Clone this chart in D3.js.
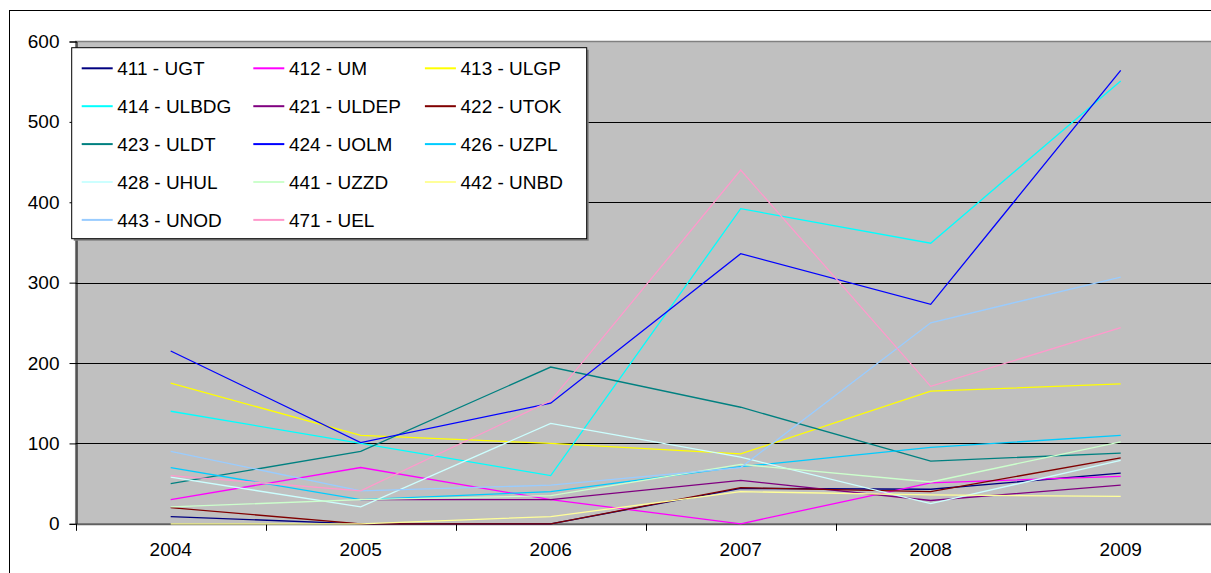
<!DOCTYPE html>
<html>
<head>
<meta charset="utf-8">
<script src="https://cdn.jsdelivr.net/npm/d3@7/dist/d3.min.js"></script>
<style>
html,body{margin:0;padding:0;background:#fff;overflow:hidden;}
svg text{font-family:"Liberation Sans",Arial,sans-serif;fill:#000;}
</style>
</head>
<body>
<svg id="chart" width="1211" height="573"></svg>
<script>
const years = ["2004","2005","2006","2007","2008","2009"];
const yTicks = [0,100,200,300,400,500,600];
const seriesNames = ["411 - UGT","412 - UM","413 - ULGP","414 - ULBDG","421 - ULDEP","422 - UTOK","423 - ULDT","424 - UOLM","426 - UZPL","428 - UHUL","441 - UZZD","442 - UNBD","443 - UNOD","471 - UEL"];
const seriesColors = ["#000080","#FF00FF","#FFFF00","#00FFFF","#800080","#800000","#008080","#0000FF","#00CCFF","#CCFFFF","#CCFFCC","#FFFF99","#99CCFF","#FF99CC"];
const v411 = [9, 0, 0, 44, 43, 63];
const v412 = [30, 70, 30, 0, 51, 59];
const v413 = [175, 110, 100, 87, 165, 174];
const v414 = [140, 100, 60, 392, 349, 551];
const v421 = [null, 30, 30, 54, 29, 48];
const v422 = [20, 0, 0, 45, 40, 82];
const v423 = [50, 90, 195, 145, 78, 88];
const v424 = [215, 101, 150, 336, 273, 564];
const v426 = [70, 30, 40, 71, 95, 110];
const v428 = [58, 21, 125, 83, 25, 79];
const v441 = [21, 30, 35, 74, 52, 102];
const v442 = [0, 0, 9, 40, 36, 34];
const v443 = [90, 41, 48, 70, 250, 307];
const v471 = [60, 41, 153, 440, 171, 244];
const seriesValues = [v411,v412,v413,v414,v421,v422,v423,v424,v426,v428,v441,v442,v443,v471];

const svg = d3.select("#chart");
const L = 75.7, T = 41.5, B = 523.8, band = 190;

// outer chart border
svg.append("rect").attr("x",9.5).attr("y",10.5).attr("width",1300).attr("height",700)
  .attr("fill","#fff").attr("stroke","#000").attr("stroke-width",1);

const x = d3.scaleBand().domain(years).range([L, L + band*years.length]).padding(0);
const y = d3.scaleLinear().domain([0,600]).range([B, T]);

// plot area
svg.append("rect").attr("x",L).attr("y",T).attr("width",band*years.length).attr("height",B-T)
  .attr("fill","#C0C0C0").attr("stroke","#808080").attr("stroke-width",1.5);

// gridlines
svg.append("g").selectAll("line").data(yTicks.filter(d=>d>0 && d<600)).join("line")
  .attr("x1",L).attr("x2",L+band*years.length)
  .attr("y1",d=>Math.round(y(d))+0.5).attr("y2",d=>Math.round(y(d))+0.5)
  .attr("stroke","#000").attr("stroke-width",1);

// y axis
const yAxis = d3.axisLeft(y).tickValues(yTicks).tickSize(7).tickPadding(10).tickFormat(d3.format("d"));
const gy = svg.append("g").attr("transform",`translate(${Math.round(L)+0.5},0)`).call(yAxis);
gy.select(".domain").attr("stroke","#000");
gy.selectAll(".tick line").attr("stroke","#000");
gy.selectAll(".tick text").style("font-size","19px").attr("fill","#000");

// x axis line
svg.append("line").attr("x1",L).attr("x2",L+band*years.length)
  .attr("y1",Math.round(B)+0.5).attr("y2",Math.round(B)+0.5).attr("stroke","#606060").attr("stroke-width",1.5);
// x ticks at band boundaries
const bounds = years.map(d=>x(d)).concat([x(years[years.length-1])+x.bandwidth()]);
svg.append("g").selectAll("line").data(bounds).join("line")
  .attr("x1",d=>Math.round(d)+0.5).attr("x2",d=>Math.round(d)+0.5)
  .attr("y1",B).attr("y2",B+7).attr("stroke","#000");
// x labels
const xAxis = d3.axisBottom(x).tickSize(0).tickPadding(0);
const gx = svg.append("g").attr("transform",`translate(0,${B+19})`).call(xAxis);
gx.select(".domain").remove();
gx.selectAll(".tick text").style("font-size","19px").attr("fill","#000").attr("dy","0.71em");

// lines
const line = d3.line().defined(d=>d.v!=null).x(d=>x(d.yr)+x.bandwidth()/2).y(d=>y(d.v));
const gl = svg.append("g");
seriesValues.forEach((vals,i)=>{
  gl.append("path").datum(vals.map((v,j)=>({yr:years[j],v:v})))
    .attr("d",line).attr("fill","none").attr("stroke",seriesColors[i]).attr("stroke-width",1.3)
    .attr("stroke-linejoin","miter");
});

// legend
const lgX = 71.7, lgY = 47.7, lgW = 515, lgH = 191;
svg.append("rect").attr("x",lgX+2).attr("y",lgY+2).attr("width",lgW).attr("height",lgH).attr("fill","#808080");
svg.append("rect").attr("x",lgX).attr("y",lgY).attr("width",lgW).attr("height",lgH)
  .attr("fill","#fff").attr("stroke","#000").attr("stroke-width",1);
const lg = svg.append("g");
seriesNames.forEach((name,i)=>{
  const col = i%3, row = Math.floor(i/3);
  const sx = 81.7 + col*171.6, sy = 68.3 + row*37.9;
  lg.append("line").attr("x1",sx).attr("x2",sx+31).attr("y1",sy).attr("y2",sy)
    .attr("stroke",seriesColors[i]).attr("stroke-width",2);
  lg.append("text").attr("x",sx+35.6).attr("y",sy).attr("dy","0.35em")
    .style("font-size","19px").text(name);
});
</script>
</body>
</html>
